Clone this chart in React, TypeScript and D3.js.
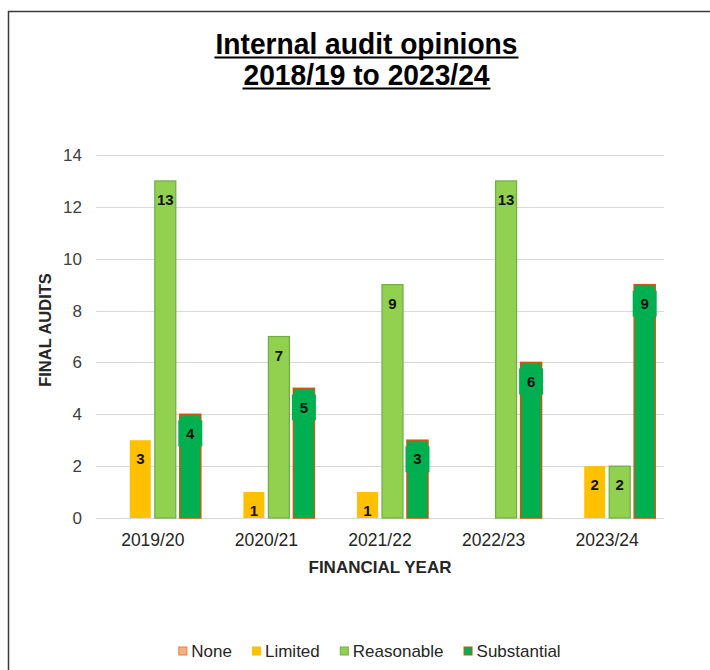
import React, { useEffect, useRef } from "react";
import * as d3 from "d3";

const years = ["2019/20", "2020/21", "2021/22", "2022/23", "2023/24"];
const seriesNames = ["None", "Limited", "Reasonable", "Substantial"];
const noneValues = [0, 0, 0, 0, 0];
const limitedValues = [3, 1, 1, 0, 2];
const reasonableValues = [13, 7, 9, 13, 2];
const substantialValues = [4, 5, 3, 6, 9];
const yTicks = [0, 2, 4, 6, 8, 10, 12, 14];

const fills = ["#F4B183", "#FFC000", "#92D050", "#00B050"];
const strokes = ["#ED7D31", "none", "#70AD47", "#C55A11"];

export default function App() {
  const ref = useRef<SVGSVGElement | null>(null);

  useEffect(() => {
    const svg = d3.select(ref.current);
    svg.selectAll("*").remove();
    const W = 710, H = 670;
    const left = 96, right = 664, top = 155, bottom = 518;

    // Frame
    svg.append("rect").attr("x", 8.5).attr("y", 11.5).attr("width", W + 20).attr("height", H + 20)
      .attr("fill", "white").attr("stroke", "#3a3a3a").attr("stroke-width", 1.5);

    // Title
    const titleFont = "'Liberation Sans Narrow', 'Arial Narrow', 'Liberation Sans', Arial, sans-serif";
    const titleLines = [
      { t: "Internal audit opinions", w: 302, y: 53.5 },
      { t: "2018/19 to 2023/24", w: 246, y: 84.5 },
    ];
    const cx = 366.5;
    titleLines.forEach((l) => {
      svg.append("text").attr("x", cx).attr("y", l.y).attr("text-anchor", "middle")
        .attr("font-family", titleFont).attr("font-weight", "bold").attr("font-size", 30)
        .attr("textLength", l.w).attr("lengthAdjust", "spacingAndGlyphs")
        .attr("fill", "#000").text(l.t);
      svg.append("line").attr("x1", cx - l.w / 2 - 1).attr("x2", cx + l.w / 2 + 1)
        .attr("y1", l.y + 4).attr("y2", l.y + 4).attr("stroke", "#000").attr("stroke-width", 2);
    });

    const y = d3.scaleLinear().domain([0, 14]).range([bottom, top]);
    const x0 = d3.scaleBand<string>().domain(years).range([left, right]).paddingInner(0.12).paddingOuter(0.06);
    const x1 = d3.scaleBand<string>().domain(seriesNames).range([0, x0.bandwidth()]).paddingInner(0.16).paddingOuter(0.08);

    const font = "'Liberation Sans', Arial, sans-serif";

    // gridlines
    svg.append("g").selectAll("line").data(yTicks).join("line")
      .attr("x1", left).attr("x2", right)
      .attr("y1", (d) => Math.round(y(d)) + 0.5).attr("y2", (d) => Math.round(y(d)) + 0.5)
      .attr("stroke", "#D9D9D9").attr("stroke-width", 1.2);

    // y tick labels
    svg.append("g").selectAll("text").data(yTicks).join("text")
      .attr("x", 82).attr("y", (d) => y(d)).attr("dy", "0.35em").attr("text-anchor", "end")
      .attr("font-family", font).attr("font-size", 17).attr("fill", "#404040").text((d) => d);

    // x tick labels
    svg.append("g").selectAll("text").data(years).join("text")
      .attr("x", (d) => (x0(d) as number) + x0.bandwidth() / 2).attr("y", 546)
      .attr("text-anchor", "middle").attr("font-family", font).attr("font-size", 17.5)
      .attr("fill", "#262626").text((d) => d);

    // axis titles
    svg.append("text").attr("x", 380).attr("y", 573).attr("text-anchor", "middle")
      .attr("font-family", font).attr("font-size", 17).attr("font-weight", "bold")
      .attr("fill", "#262626").text("FINANCIAL YEAR");
    svg.append("text").attr("transform", "translate(51,330) rotate(-90)").attr("text-anchor", "middle")
      .attr("font-family", font).attr("font-size", 16.5).attr("font-weight", "bold")
      .attr("fill", "#262626").text("FINAL AUDITS");

    const seriesValues = [noneValues, limitedValues, reasonableValues, substantialValues];
    const rows: { year: string; s: number; v: number }[] = [];
    years.forEach((yr, i) => seriesValues.forEach((vals, s) => rows.push({ year: yr, s, v: vals[i] })));
    const visible = rows.filter((r) => r.v > 0);

    const g = svg.append("g");
    g.selectAll("rect").data(visible).join("rect")
      .attr("x", (d) => (x0(d.year) as number) + (x1(seriesNames[d.s]) as number))
      .attr("y", (d) => y(d.v))
      .attr("width", x1.bandwidth())
      .attr("height", (d) => y(0) - y(d.v))
      .attr("fill", (d) => fills[d.s])
      .attr("stroke", (d) => strokes[d.s])
      .attr("stroke-width", (d) => (d.s === 3 ? 1.5 : 1.2));

    // label boxes for Substantial
    g.selectAll("rect.lb").data(visible.filter((d) => d.s === 3)).join("rect").attr("class", "lb")
      .attr("x", (d) => (x0(d.year) as number) + (x1(seriesNames[d.s]) as number) + x1.bandwidth() / 2 - 12)
      .attr("y", (d) => y(d.v) + 19 - 13)
      .attr("width", 24).attr("height", 26)
      .attr("fill", "#00B050");

    // data labels
    g.selectAll("text").data(visible).join("text")
      .attr("x", (d) => (x0(d.year) as number) + (x1(seriesNames[d.s]) as number) + x1.bandwidth() / 2)
      .attr("y", (d) => y(d.v) + 19).attr("dy", "0.35em").attr("text-anchor", "middle")
      .attr("font-family", font).attr("font-size", 15).attr("font-weight", "bold")
      .attr("fill", "#111").text((d) => d.v);

    // legend
    const legend = svg.append("g");
    const items = seriesNames.map((n, i) => {
      const gi = legend.append("g");
      gi.append("rect").attr("x", 0.5).attr("y", -4).attr("width", 8).attr("height", 8)
        .attr("fill", fills[i]).attr("stroke", strokes[i] === "none" ? fills[i] : strokes[i]).attr("stroke-width", 1);
      const t = gi.append("text").attr("x", 13).attr("y", 0).attr("dy", "0.35em")
        .attr("font-family", font).attr("font-size", 17).attr("fill", "#262626").text(n);
      const w = (t.node() as SVGTextElement).getComputedTextLength();
      return { gi, w: 13 + w };
    });
    const gap = 20;
    const total = items.reduce((a, b) => a + b.w, 0) + gap * (items.length - 1);
    let xx = 369.5 - total / 2;
    items.forEach((it) => {
      it.gi.attr("transform", `translate(${xx},651)`);
      xx += it.w + gap;
    });
  }, []);

  return (
    <svg ref={ref} width={710} height={670}
      style={{ position: "absolute", left: 0, top: 0, background: "white", display: "block" }} />
  );
}
